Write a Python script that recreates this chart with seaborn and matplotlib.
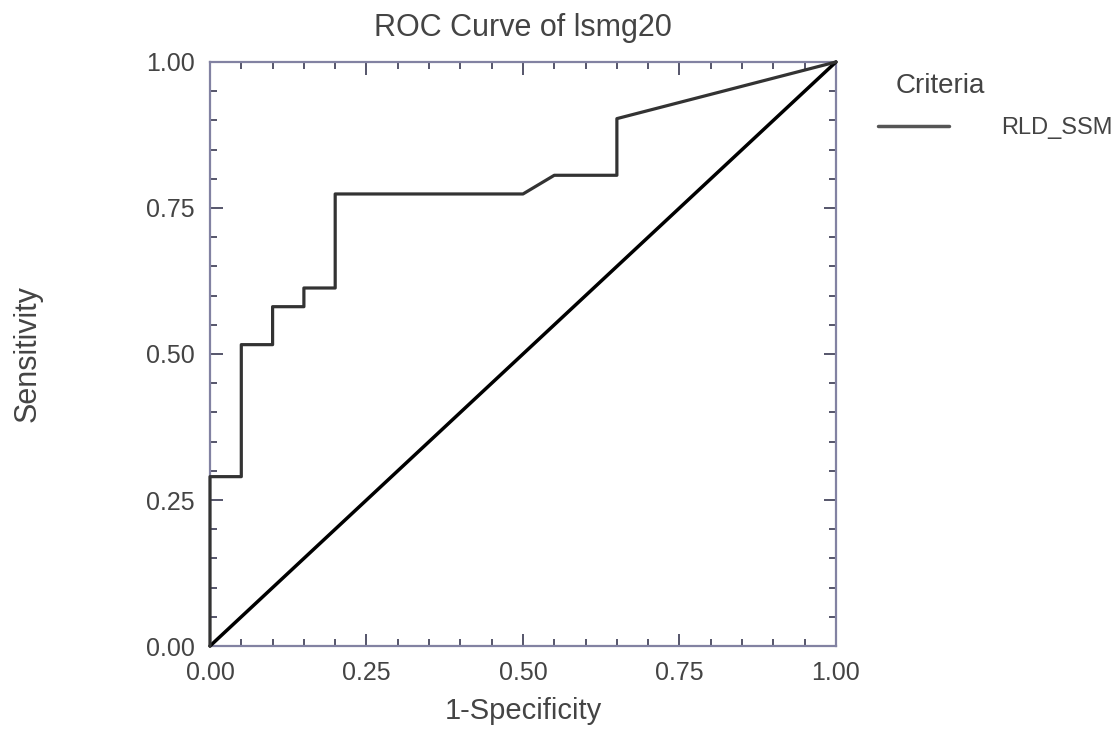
import numpy as np
import pandas as pd
import matplotlib
matplotlib.use("Agg")
import matplotlib.pyplot as plt
from matplotlib.ticker import AutoMinorLocator
import seaborn as sns

# ROC points
fpr = [0.0, 0.0, 0.05, 0.05, 0.10, 0.10, 0.15, 0.15, 0.20, 0.20, 0.50, 0.55, 0.65, 0.65, 1.0]
tpr = [0.0, 0.290, 0.290, 0.516, 0.516, 0.581, 0.581, 0.613, 0.613, 0.774, 0.774, 0.806, 0.806, 0.903, 1.0]
ref_x = [0.0, 1.0]
ref_y = [0.0, 1.0]
tick_vals = [0.0, 0.25, 0.50, 0.75, 1.0]
tick_labels = ["0.00", "0.25", "0.50", "0.75", "1.00"]

roc = pd.DataFrame({"fpr": fpr, "tpr": tpr})
diag = pd.DataFrame({"x": ref_x, "y": ref_y})

sns.set_style("ticks")
plt.rcParams["font.family"] = ["Liberation Sans", "DejaVu Sans"]

txt = "#444444"
spine_col = "#8282a2"

fig = plt.figure(figsize=(11.2, 7.44), dpi=100)
ax = fig.add_axes([0.1875, 0.1317, 0.5589, 0.785])

sns.lineplot(data=diag, x="x", y="y", sort=False, estimator=None,
             color="black", linewidth=2.5, ax=ax, clip_on=False, zorder=3)
sns.lineplot(data=roc, x="fpr", y="tpr", sort=False, estimator=None,
             color="#333333", linewidth=2.3, ax=ax, clip_on=False, zorder=4,
             label="RLD_SSM")

ax.set_xlim(0, 1)
ax.set_ylim(0, 1)
ax.set_xticks(tick_vals)
ax.set_xticklabels(tick_labels)
ax.set_yticks(tick_vals)
ax.set_yticklabels(tick_labels)
ax.xaxis.set_minor_locator(AutoMinorLocator(5))
ax.yaxis.set_minor_locator(AutoMinorLocator(5))

ax.tick_params(which="both", direction="in", top=True, right=True,
               color="#55556a", width=1.4, labelcolor=txt, labelsize=18)
ax.tick_params(which="major", length=9, pad=11)
ax.tick_params(which="minor", length=5)

for s in ax.spines.values():
    s.set_color(spine_col)
    s.set_linewidth(1.6)

ax.set_title("ROC Curve of lsmg20", fontsize=22, color=txt, pad=19)
ax.set_xlabel("1-Specificity", fontsize=21, color=txt)
ax.set_ylabel("Sensitivity", fontsize=22, color=txt)
ax.xaxis.set_label_coords(0.5, -0.088)
ax.yaxis.set_label_coords(-0.268, 0.5)

# legend title placed as its own text, entry below it
fig.text(896 / 1120, 1 - 86 / 744, "Criteria", fontsize=20, color=txt,
         ha="left", va="center")
leg = ax.legend(loc="center left", bbox_to_anchor=(878 / 1120, 1 - 128 / 744),
                bbox_transform=fig.transFigure, frameon=False,
                fontsize=17, handlelength=3.0, handletextpad=2.2,
                borderpad=0, borderaxespad=0)
for t in leg.get_texts():
    t.set_color(txt)
for h in leg.get_lines():
    h.set_color("#555555")
    h.set_linewidth(2.5)

fig.savefig("out.png", dpi=100, facecolor="white")
